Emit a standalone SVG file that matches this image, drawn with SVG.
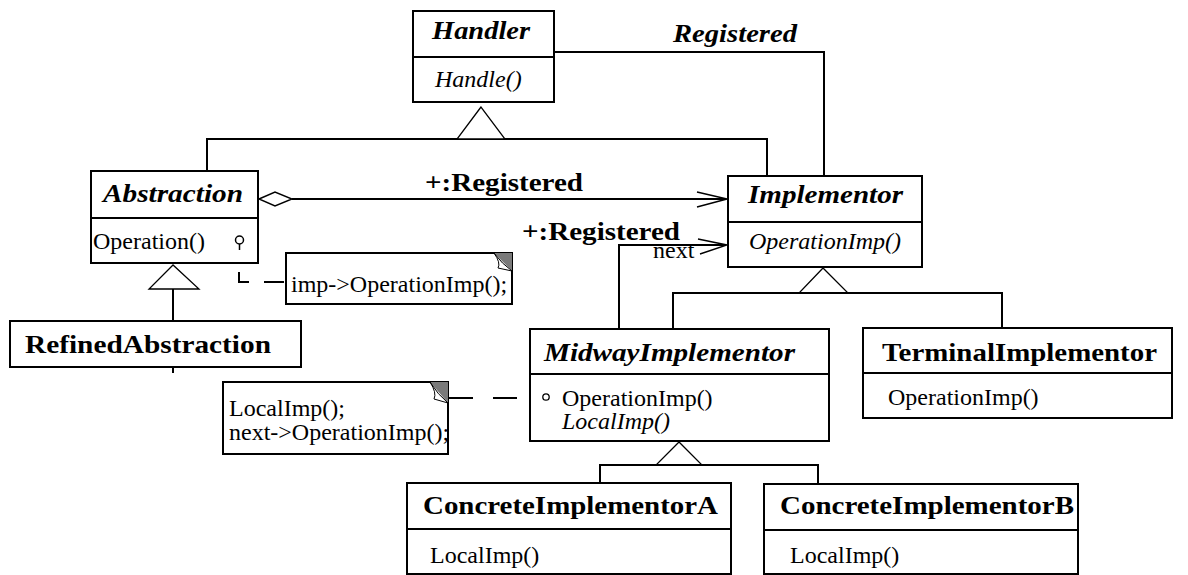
<svg xmlns="http://www.w3.org/2000/svg" width="1188" height="575" viewBox="0 0 1188 575">
  <style>
    .box { fill: #fff; stroke: #000; stroke-width: 2; }
    .ln { fill: none; stroke: #000; stroke-width: 2; }
    .thin { fill: none; stroke: #000; stroke-width: 1.4; }
    .tri { fill: #fff; stroke: #000; stroke-width: 1.3; }
    .dash { fill: none; stroke: #000; stroke-width: 2; }
    .fold { fill: #7a7a7a; }
    .flap { fill: #fff; stroke: #000; stroke-width: 1; }
    .t { font-family: "Liberation Serif", "Times New Roman", serif; font-size: 24px; fill: #000; }
    .b { font-weight: bold; font-size: 25px; }
    .i { font-style: italic; }
  </style>
  <rect width="1188" height="575" fill="#fff"/>

  <!-- connectors -->
  <g id="connectors">
    <!-- Handler - Implementor association -->
    <path class="ln" d="M554,52 H824 V176"/>
    <text class="t b i" x="673" y="42" textLength="124" lengthAdjust="spacingAndGlyphs">Registered</text>

    <!-- Handler generalization -->
    <path class="ln" d="M207,172 V139 H767 V176"/>
    <polygon class="tri" points="481,107 457,139 505,139"/>

    <!-- Abstraction aggregation to Implementor -->
    <polygon class="thin" points="259,199 275,192 292,199 275,206" style="fill:#fff"/>
    <path class="ln" d="M292,199 H726"/>
    <path class="thin" d="M697,192 L727,199 L697,207"/>
    <text class="t b" x="425" y="191" textLength="158" lengthAdjust="spacingAndGlyphs">+:Registered</text>

    <!-- next association from MidwayImplementor -->
    <path class="ln" d="M619,329 V245 H726"/>
    <path class="thin" d="M698,239 L727,245 L700,254"/>
    <text class="t b" x="522" y="240" textLength="158" lengthAdjust="spacingAndGlyphs">+:Registered</text>
    <text class="t" x="653" y="258">next</text>

    <!-- Abstraction generalization -->
    <polygon class="tri" points="173,265 149,289 199,289"/>
    <path class="ln" d="M173,289 V321"/>
    <path class="ln" d="M173,367 V373"/>

    <!-- Implementor generalization -->
    <polygon class="tri" points="823,268 799,293 848,293"/>
    <path class="ln" d="M673,329 V293 H1002 V328"/>

    <!-- MidwayImplementor generalization -->
    <polygon class="tri" points="679,442 656,465 702,465"/>
    <path class="ln" d="M600,483 V465 H818 V484"/>

    <!-- note links -->
    <path class="dash" d="M239,272 V282 H286" stroke-dasharray="20 15"/>
    <path class="dash" d="M448,398 H530" stroke-dasharray="25 20 24 100"/>
  </g>

  <!-- Handler -->
  <g id="handler">
    <rect class="box" x="413" y="11" width="141" height="91"/>
    <line class="ln" x1="413" y1="57" x2="554" y2="57"/>
    <text class="t b i" x="432" y="39" textLength="98" lengthAdjust="spacingAndGlyphs">Handler</text>
    <text class="t i" x="435" y="87">Handle()</text>
  </g>

  <!-- Abstraction -->
  <g id="abstraction">
    <rect class="box" x="91" y="171" width="167" height="92"/>
    <line class="ln" x1="91" y1="218" x2="258" y2="218"/>
    <text class="t b i" x="103" y="202" textLength="140" lengthAdjust="spacingAndGlyphs">Abstraction</text>
    <text class="t" x="93" y="249">Operation()</text>
    <circle cx="239.5" cy="240" r="4" fill="none" stroke="#000" stroke-width="1.5"/>
    <line x1="239.5" y1="244" x2="239.5" y2="250" stroke="#000" stroke-width="1.5"/>
  </g>

  <!-- note on Operation() -->
  <g id="note-operation">
    <rect class="box" x="286" y="253" width="226" height="51"/>
    <polygon class="fold" points="494,253 512,253 512,271"/>
    <path class="flap" d="M494,253 Q501,263 498,268 L512,271 Q502,264 494,253 Z"/>
    <text class="t" x="291" y="292">imp-&gt;OperationImp();</text>
  </g>

  <!-- RefinedAbstraction -->
  <g id="refined-abstraction">
    <rect class="box" x="10" y="321" width="291" height="46"/>
    <text class="t b" x="25" y="353" textLength="246" lengthAdjust="spacingAndGlyphs">RefinedAbstraction</text>
  </g>

  <!-- Implementor -->
  <g id="implementor">
    <rect class="box" x="728" y="176" width="194" height="91"/>
    <line class="ln" x1="728" y1="222" x2="922" y2="222"/>
    <text class="t b i" x="748" y="203" textLength="155" lengthAdjust="spacingAndGlyphs">Implementor</text>
    <text class="t i" x="749" y="249">OperationImp()</text>
  </g>

  <!-- MidwayImplementor -->
  <g id="midway-implementor">
    <rect class="box" x="530" y="329" width="299" height="112"/>
    <line class="ln" x1="530" y1="374" x2="829" y2="374"/>
    <text class="t b i" x="544" y="361" textLength="251" lengthAdjust="spacingAndGlyphs">MidwayImplementor</text>
    <circle cx="546" cy="397" r="3.2" fill="none" stroke="#000" stroke-width="1.3"/>
    <text class="t" x="562" y="406">OperationImp()</text>
    <text class="t i" x="562" y="429">LocalImp()</text>
  </g>

  <!-- note on MidwayImplementor -->
  <g id="note-midway">
    <rect class="box" x="223" y="382" width="225" height="72"/>
    <polygon class="fold" points="430,382 448,382 448,403"/>
    <path class="flap" d="M430,382 Q437,393 434,399 L448,403 Q438,395 430,382 Z"/>
    <text class="t" x="229" y="416">LocalImp();</text>
    <text class="t" x="229" y="440">next-&gt;OperationImp();</text>
  </g>

  <!-- TerminalImplementor -->
  <g id="terminal-implementor">
    <rect class="box" x="863" y="328" width="309" height="90"/>
    <line class="ln" x1="863" y1="373" x2="1172" y2="373"/>
    <text class="t b" x="882" y="361" textLength="275" lengthAdjust="spacingAndGlyphs">TerminalImplementor</text>
    <text class="t" x="888" y="405">OperationImp()</text>
  </g>

  <!-- ConcreteImplementorA -->
  <g id="concrete-a">
    <rect class="box" x="407" y="483" width="324" height="91"/>
    <line class="ln" x1="407" y1="529" x2="731" y2="529"/>
    <text class="t b" x="423" y="514" textLength="295" lengthAdjust="spacingAndGlyphs">ConcreteImplementorA</text>
    <text class="t" x="430" y="563">LocalImp()</text>
  </g>

  <!-- ConcreteImplementorB -->
  <g id="concrete-b">
    <rect class="box" x="764" y="484" width="314" height="90"/>
    <line class="ln" x1="764" y1="530" x2="1078" y2="530"/>
    <text class="t b" x="780" y="514" textLength="294" lengthAdjust="spacingAndGlyphs">ConcreteImplementorB</text>
    <text class="t" x="790" y="563">LocalImp()</text>
  </g>
</svg>
